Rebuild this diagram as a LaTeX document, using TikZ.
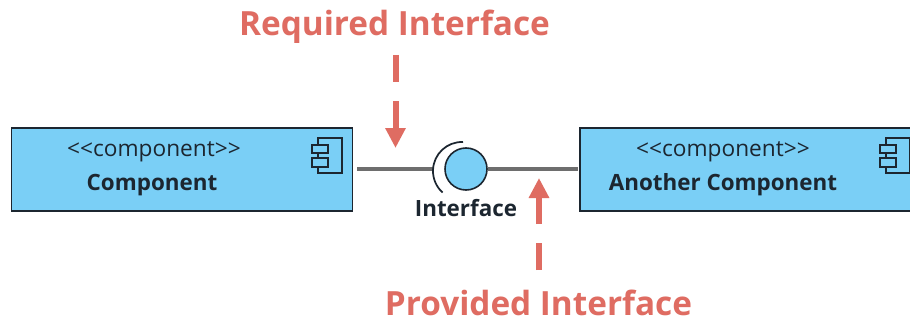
\documentclass[tikz,border=0pt]{standalone}
\usepackage{fontspec}
\setmainfont{Open Sans}
\usepackage{xcolor}
\usetikzlibrary{arrows.meta,positioning}
\definecolor{compblue}{HTML}{7ACFF6}
\definecolor{notered}{HTML}{DF6C62}
\definecolor{edgedark}{HTML}{1C2630}
\definecolor{wiregray}{HTML}{6E6E6E}
\newcommand\bw{255.75pt}
\newcommand\bh{62.25pt}
\tikzset{
  compbox/.style={draw=edgedark,fill=compblue,line width=1.2pt,minimum width=\bw,minimum height=\bh,inner sep=0pt,anchor=north west},
  stereo/.style={font=\fontsize{17pt}{20pt}\selectfont,text=edgedark,inner sep=0pt},
  compname/.style={font=\fontsize{16.8pt}{20pt}\selectfont\bfseries,text=edgedark,inner sep=0pt},
  notelabel/.style={font=\fontsize{25pt}{30pt}\selectfont\bfseries,text=notered,inner sep=0pt},
  wire/.style={draw=wiregray,line width=2.4pt},
  notearrow/.style={draw=notered,line width=4.5pt,dash pattern=on 20.25pt off 14.25pt,-{Triangle[length=15pt,width=14.5pt]}},
  iconline/.style={draw=edgedark,line width=1.1pt,fill=compblue}
}
\begin{document}
\begin{tikzpicture}[x=0.75pt,y=0.75pt]
    \clip (0,0) rectangle (910,322);
    \fill[white] (0,0) rectangle (910,322);

    \node[compbox] (comp) at (10.5,195) {};
    \node[compbox] (other) at (579,195) {};
    \node[stereo] (compst) at (154,170) {<{}<component>{}>};
    \node[compname] (compnm) at (152,137) {Component};
    \node[stereo] (otherst) at (723,170) {<{}<component>{}>};
    \node[compname] (othernm) at (723,137) {Another Component};

    \begin{scope}
      \draw[iconline] (318,149) rectangle (342,184);
      \draw[iconline] (312,169) rectangle (328,177);
      \draw[iconline] (312,155) rectangle (328,164);
    \end{scope}
    \begin{scope}[xshift=426pt]
      \draw[iconline] (318,149) rectangle (342,184);
      \draw[iconline] (312,169) rectangle (328,177);
      \draw[iconline] (312,155) rectangle (328,164);
    \end{scope}

    \coordinate (compout) at (357,153);
    \coordinate (socket) at (433,153);
    \coordinate (otherin) at (578,153);
    \node[draw=edgedark,fill=compblue,line width=1.2pt,circle,minimum size=31.5pt,inner sep=0pt] (iface) at (466,153) {};
    \node[compname,below=13pt of iface.south,anchor=center] (ifacenm) {Interface};

    \draw[wire] (compout) -- (socket);
    \draw[wire] (iface) -- (otherin);
    \draw[draw=edgedark,line width=1.3pt] (463,180) arc[start angle=88,end angle=228,radius=29];

    \node[notelabel] (reqlabel) at (394.5,295) {Required Interface};
    \node[notelabel] (provlabel) at (538.5,19) {Provided Interface};
    \coordinate (reqstart) at (395.5,267);
    \coordinate (reqtip) at (395.5,174);
    \coordinate (provstart) at (539,52);
    \coordinate (provtip) at (539,144);
    \draw[notearrow] (reqstart) -- (reqtip);
    \draw[notearrow] (provstart) -- (provtip);
  \end{tikzpicture}
\end{document}
